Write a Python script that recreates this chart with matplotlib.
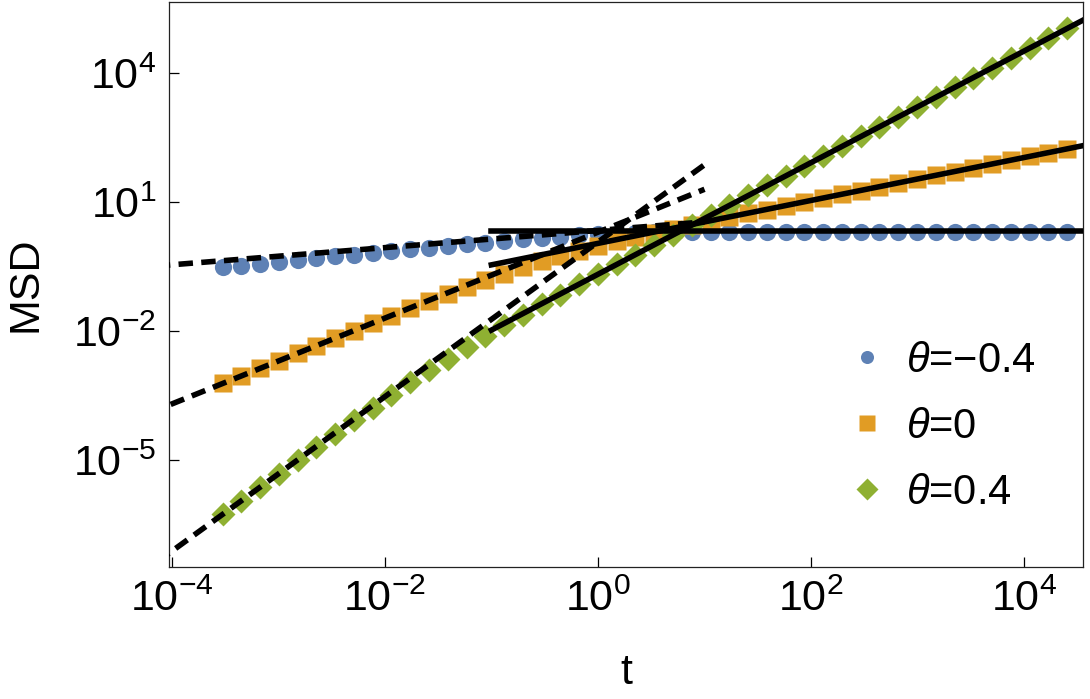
import numpy as np
import matplotlib
matplotlib.use('Agg')
import matplotlib.pyplot as plt
from matplotlib.ticker import FixedLocator, NullLocator
from matplotlib.lines import Line2D

plt.rcParams['font.family'] = ['Liberation Sans', 'DejaVu Sans']
plt.rcParams['mathtext.fontset'] = 'custom'
plt.rcParams['mathtext.rm'] = 'Liberation Sans'
plt.rcParams['mathtext.it'] = 'Liberation Sans:italic'

#------- data (log10 values) -------
log_t = [-3.522, -3.346, -3.170, -2.994, -2.818, -2.641, -2.465, -2.289,
         -2.113, -1.937, -1.761, -1.585, -1.409, -1.233, -1.057, -0.880,
         -0.704, -0.528, -0.352, -0.176, 0.000, 0.176, 0.352, 0.528,
         0.704, 0.880, 1.057, 1.233, 1.409, 1.585, 1.761, 1.937,
         2.113, 2.289, 2.465, 2.641, 2.818, 2.994, 3.170, 3.346,
         3.522, 3.698, 3.874, 4.050, 4.226, 4.402]

log_msd_neg = [-0.52, -0.48, -0.44, -0.39, -0.35, -0.31, -0.26, -0.22,
               -0.18, -0.14, -0.10, -0.06, -0.02, 0.02, 0.06, 0.10,
               0.14, 0.17, 0.20, 0.23, 0.25, 0.27, 0.285, 0.295,
               0.305, 0.31, 0.315, 0.315, 0.315, 0.315, 0.315, 0.315,
               0.315, 0.315, 0.315, 0.315, 0.315, 0.315, 0.315, 0.315,
               0.315, 0.315, 0.315, 0.315, 0.315, 0.315]

log_msd_zero = [-3.22, -3.05, -2.87, -2.69, -2.52, -2.34, -2.17, -1.99,
                -1.82, -1.64, -1.47, -1.30, -1.13, -0.97, -0.81, -0.66,
                -0.51, -0.375, -0.25, -0.13, -0.016, 0.088, 0.19, 0.286,
                0.38, 0.47, 0.56, 0.65, 0.74, 0.83, 0.92, 1.01,
                1.10, 1.18, 1.27, 1.36, 1.45, 1.54, 1.63, 1.71,
                1.80, 1.89, 1.98, 2.07, 2.15, 2.24]

log_msd_pos = [-6.27, -5.95, -5.64, -5.32, -5.01, -4.70, -4.39, -4.08,
               -3.78, -3.48, -3.19, -2.91, -2.64, -2.37, -2.12, -1.87,
               -1.62, -1.38, -1.15, -0.91, -0.68, -0.45, -0.22, 0.01,
               0.24, 0.47, 0.70, 0.93, 1.16, 1.39, 1.61, 1.84,
               2.07, 2.30, 2.53, 2.76, 2.99, 3.22, 3.45, 3.68,
               3.90, 4.13, 4.36, 4.59, 4.82, 5.05]

labels = ['$\\theta$=\u22120.4', '$\\theta$=0', '$\\theta$=0.4']
colors = ['#5E81B5', '#E19C24', '#8FB032']
markers = ['o', 's', 'D']
msizes = [12.4, 13.4, 11.8]
leg_sizes = [9.4, 12.0, 11.0]

# asymptotes  MSD ~ A t^a (short times, dashed) and B t^b (long times, solid)
short_amp = [2.2, 2.0, 1.18]
short_exp = [0.2, 1.0, 1.8]
long_amp = [2.16, 1.1, 0.21]
long_exp = [0.0, 0.5, 1.3]

xticks = [1e-4, 1e-2, 1e0, 1e2, 1e4]
xticklabels = ['$10^{-4}$', '$10^{-2}$', '$10^{0}$', '$10^{2}$', '$10^{4}$']
yticks = [1e-5, 1e-2, 1e1, 1e4]
yticklabels = ['$10^{-5}$', '$10^{-2}$', '$10^{1}$', '$10^{4}$']

#------- plotting -------
fig = plt.figure(figsize=(10.9, 6.99), dpi=100)
ax = fig.add_axes([0.155, 0.189, 0.8385, 0.8087])

t = 10 ** np.array(log_t)
series = [log_msd_neg, log_msd_zero, log_msd_pos]
for i in range(3):
    ax.plot(t, 10 ** np.array(series[i]), linestyle='none', marker=markers[i],
            ms=msizes[i], color=colors[i], mec='none', zorder=2)

t_short = np.logspace(-5, 1, 50)
t_long = np.logspace(-1, 5, 50)
for i in range(3):
    ax.plot(t_short, short_amp[i] * t_short ** short_exp[i], color='black',
            lw=4.0, linestyle=(0, (2.6, 1.5)), zorder=3)
    ax.plot(t_long, long_amp[i] * t_long ** long_exp[i], color='black',
            lw=4.0, zorder=3)

ax.set_xscale('log')
ax.set_yscale('log')
ax.set_xlim(10 ** -4.025, 10 ** 4.55)
ax.set_ylim(10 ** -7.49, 10 ** 5.67)

ax.xaxis.set_major_locator(FixedLocator(xticks))
ax.yaxis.set_major_locator(FixedLocator(yticks))
ax.xaxis.set_minor_locator(NullLocator())
ax.yaxis.set_minor_locator(NullLocator())
ax.set_xticklabels(xticklabels)
ax.set_yticklabels(yticklabels)
ax.tick_params(direction='in', length=7.2, width=0.9, labelsize=31, pad=9,
               top=False, right=False)
for sp in ax.spines.values():
    sp.set_linewidth(0.9)
    sp.set_color('#222222')

ax.set_xlabel('t', fontsize=31, labelpad=24)
ax.set_ylabel('MSD', fontsize=31, labelpad=20)

handles = [Line2D([], [], linestyle='none', marker=markers[i], ms=leg_sizes[i],
                  color=colors[i], mec='none') for i in range(3)]
ax.legend(handles, labels, loc='center left', bbox_to_anchor=(0.718, 0.2477),
          frameon=False, fontsize=30, handlelength=1.0, handletextpad=0.45,
          borderpad=0, labelspacing=0.62)

fig.savefig('out.png', dpi=100)
